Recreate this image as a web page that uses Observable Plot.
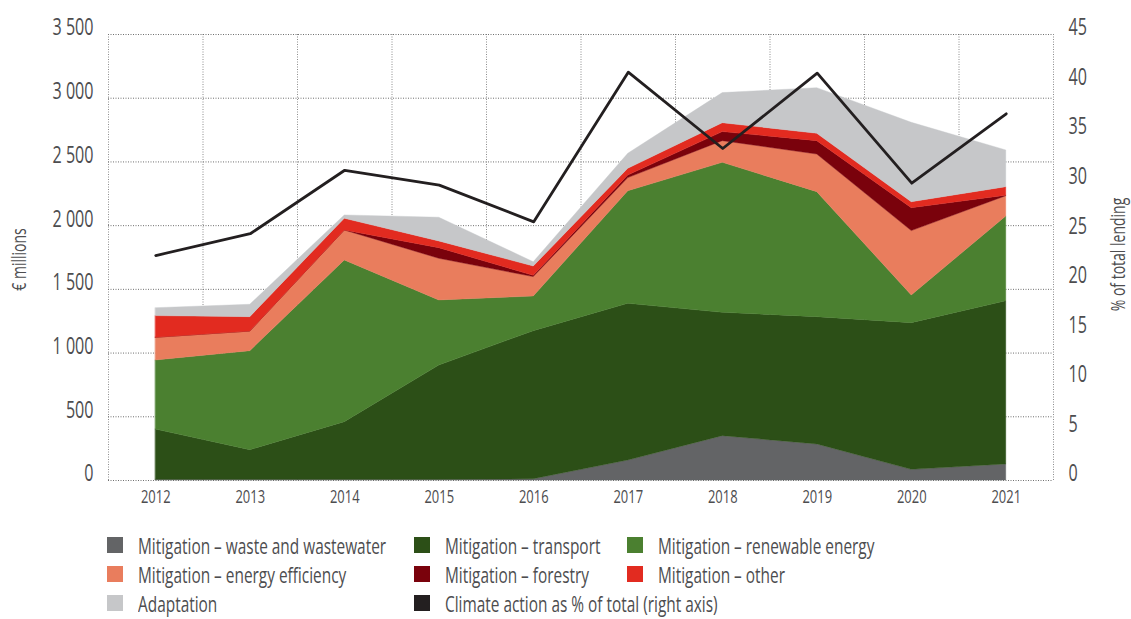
<!DOCTYPE html>
<html><head><meta charset="utf-8">
<script src="https://cdn.jsdelivr.net/npm/d3@7"></script>
<script src="https://cdn.jsdelivr.net/npm/@observablehq/plot@0.6"></script>
<style>
body{margin:0;background:#fff;}
#wrap{position:relative;width:1131px;height:619px;font-family:"Open Sans",sans-serif;color:#4d4d4f;}
.lg{position:absolute;height:20px;display:flex;align-items:center;white-space:nowrap;}
.sw{width:16px;height:16px;flex:none;}
.lt{font-size:22px;line-height:20px;display:inline-block;transform:scaleX(0.70);transform-origin:left center;margin-left:15px;}
</style></head><body><div id="wrap"></div>
<script>
// ---- data ----
const years = [2012, 2013, 2014, 2015, 2016, 2017, 2018, 2019, 2020, 2021];
const seriesNames = [
  "Mitigation – waste and wastewater",
  "Mitigation – transport",
  "Mitigation – renewable energy",
  "Mitigation – energy efficiency",
  "Mitigation – forestry",
  "Mitigation – other",
  "Adaptation"
];
const seriesColors = ["#636466", "#2c4f17", "#4b8030", "#e97d5d", "#7a020c", "#e22b20", "#c6c7c9"];
const waste       = [5, 5, 5, 5, 10, 157, 348, 283, 84, 126];
const transport   = [395, 233, 453, 897, 1162, 1230, 968, 999, 1151, 1281];
const renewable   = [542, 777, 1269, 511, 272, 883, 1177, 981, 217, 665];
const efficiency  = [178, 154, 235, 327, 152, 103, 170, 295, 505, 159];
const forestry    = [0, 0, 0, 83, 10, 20, 71, 105, 180, 4];
const other       = [170, 113, 92, 53, 73, 53, 70, 58, 47, 67];
const adaptation  = [62, 97, 26, 186, 34, 118, 236, 358, 623, 288];
const pctOfTotal  = [22.7, 24.9, 31.3, 29.8, 26.1, 41.2, 33.5, 41.1, 30.0, 37.0];
const lineName = "Climate action as % of total (right axis)";
const lineColor = "#231f20";
const leftTicks  = [0, 500, 1000, 1500, 2000, 2500, 3000, 3500];
const rightTicks = [0, 5, 10, 15, 20, 25, 30, 35, 40, 45];
const leftTitle = "€ millions";
const rightTitle = "% of total lending";
const LEFT_MAX = 3500, RIGHT_MAX = 45;

// ---- build tables ----
const seriesValues = [waste, transport, renewable, efficiency, forestry, other, adaptation];
const rows = [];
seriesNames.forEach((s, k) => years.forEach((yr, i) => rows.push({year: yr, series: s, value: seriesValues[k][i]})));
const lineRows = years.map((yr, i) => ({year: yr, v: pctOfTotal[i] * LEFT_MAX / RIGHT_MAX}));
const gridX = d3.range(years[0] - 0.5, years[years.length - 1] + 1, 1);
const fmtLeft = d => d3.format(",")(d).replace(/,/g, " ");
const textColor = "#4d4d4f";

const plot = Plot.plot({
  width: 1131, height: 520,
  marginTop: 34, marginBottom: 40, marginLeft: 108, marginRight: 78,
  x: {domain: [2011.5, 2021.5], axis: null},
  y: {domain: [0, LEFT_MAX], axis: null},
  color: {domain: seriesNames, range: seriesColors},
  style: {fontFamily: "'Open Sans', sans-serif", background: "#fff", overflow: "visible"},
  marks: [
    Plot.ruleX(gridX, {x: d => d, stroke: "#8c8c8c", strokeDasharray: "1,1.5"}),
    Plot.ruleY(leftTicks, {y: d => d, stroke: "#6f6f6f", strokeDasharray: "1,1.5"}),
    Plot.areaY(rows, {x: "year", y: "value", z: "series", fill: "series", stroke: "series", strokeWidth: 0.4, order: seriesNames}),
    Plot.line(lineRows, {x: "year", y: "v", stroke: lineColor, strokeWidth: 2.8}),
    Plot.text(leftTicks, {y: d => d, text: d => fmtLeft(d), frameAnchor: "left", textAnchor: "end", dx: -15, dy: -6.5, fontSize: 23, fill: textColor}),
    Plot.text(rightTicks, {y: d => d * LEFT_MAX / RIGHT_MAX, text: d => String(d), frameAnchor: "right", textAnchor: "start", dx: 15, dy: -6.5, fontSize: 23, fill: textColor}),
    Plot.text(years, {x: d => d, text: d => String(d), frameAnchor: "bottom", dy: 22, fontSize: 18.5, fill: textColor}),
    Plot.text([leftTitle], {text: d => d, frameAnchor: "left", textAnchor: "middle", rotate: -90, dx: -89, dy: 2, fontSize: 20, fill: textColor}),
    Plot.text([rightTitle], {text: d => d, frameAnchor: "right", textAnchor: "middle", rotate: -90, dx: 65, dy: -3, fontSize: 20, fill: textColor})
  ]
});
const wrap = document.getElementById("wrap");
wrap.appendChild(plot);
// condensed look of the original typeface: compress glyphs, keep the original anchor point
const K = 0.7;
plot.querySelectorAll("text").forEach(t => {
  const L = t.getComputedTextLength();
  if (!(L > 0)) return;
  const anchor = getComputedStyle(t).textAnchor;
  const nL = L * K;
  const x0 = +(t.getAttribute("x") || 0);
  const shift = anchor === "middle" ? -nL / 2 : anchor === "end" ? -nL : 0;
  t.setAttribute("x", x0 + shift);
  t.setAttribute("text-anchor", "start");
  t.style.textAnchor = "start";
  t.setAttribute("textLength", nL);
  t.setAttribute("lengthAdjust", "spacingAndGlyphs");
});

// ---- legend ----
const legendItems = seriesNames.map((s, i) => ({label: s, color: seriesColors[i]}));
legendItems.push({label: lineName, color: lineColor});
const colX = [107, 414, 627], rowY = [535, 564, 593];
legendItems.forEach((it, i) => {
  const d = document.createElement("div");
  d.className = "lg";
  d.style.left = colX[i % 3] + "px";
  d.style.top = rowY[Math.floor(i / 3)] + "px";
  d.innerHTML = `<span class="sw" style="background:${it.color}"></span><span class="lt">${it.label}</span>`;
  wrap.appendChild(d);
});
</script></body></html>
